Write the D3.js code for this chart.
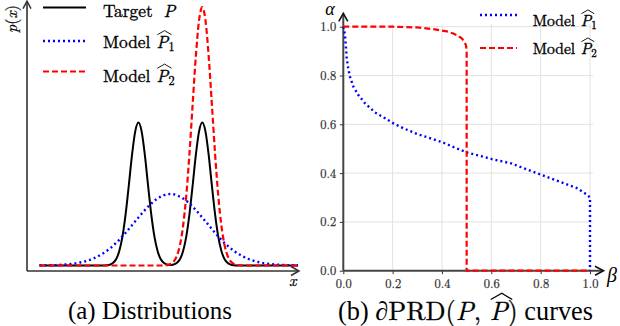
<!DOCTYPE html>
<html><head><meta charset="utf-8">
<script src="https://cdn.jsdelivr.net/npm/d3@7"></script>
<style>body{margin:0;background:#fff} svg{display:block} text{white-space:pre}</style>
</head><body>
<svg id="c" width="620" height="326"></svg>
<script>
// ---------------- data ----------------
// (a) densities sampled on an x grid
const xGrid = [-4.1,-4.0,-3.9,-3.8,-3.7,-3.6,-3.5,-3.4,-3.3,-3.2,
  -3.1,-3.0,-2.9,-2.8,-2.7,-2.6,-2.5,-2.4,-2.3,-2.2,
  -2.1,-2.0,-1.9,-1.8,-1.7,-1.6,-1.5,-1.4,-1.3,-1.2,
  -1.1,-1.0,-0.9,-0.8,-0.7,-0.6,-0.5,-0.4,-0.3,-0.2,
  -0.1,0.0,0.1,0.2,0.3,0.4,0.5,0.6,0.7,0.8,
  0.9,1.0,1.1,1.2,1.3,1.4,1.5,1.6,1.7,1.8,
  1.9,2.0,2.1,2.2,2.3,2.4,2.5,2.6,2.7,2.8,
  2.9,3.0,3.1,3.2,3.3,3.4,3.5,3.6,3.7,3.8,
  3.9,4.0];
const targetP = [0,0,0,0,0,0,0,0,0,0,
  0,0,0,0,0,0,0,0,0,0,
  0,0.001,0.004,0.012,0.031,0.072,0.145,0.257,0.401,0.552,
  0.668,0.712,0.668,0.552,0.401,0.257,0.145,0.072,0.031,0.012,
  0.005,0.002,0.005,0.012,0.031,0.072,0.145,0.257,0.401,0.552,
  0.668,0.712,0.668,0.552,0.401,0.257,0.145,0.072,0.031,0.012,
  0.004,0.001,0,0,0,0,0,0,0,0,
  0,0,0,0,0,0,0,0,0,0,
  0,0];
const modelP1 = [0.001,0.001,0.001,0.001,0.002,0.002,0.003,0.004,0.005,0.006,
  0.008,0.010,0.012,0.016,0.019,0.024,0.029,0.036,0.043,0.052,
  0.061,0.072,0.084,0.098,0.112,0.128,0.145,0.163,0.182,0.201,
  0.220,0.239,0.258,0.276,0.293,0.308,0.322,0.334,0.343,0.350,
  0.355,0.356,0.355,0.350,0.343,0.334,0.322,0.308,0.293,0.276,
  0.258,0.239,0.220,0.201,0.182,0.163,0.145,0.128,0.112,0.098,
  0.084,0.072,0.061,0.052,0.043,0.036,0.029,0.024,0.019,0.016,
  0.012,0.010,0.008,0.006,0.005,0.004,0.003,0.002,0.002,0.001,
  0.001,0.001];
const modelP2 = [0,0,0,0,0,0,0,0,0,0,
  0,0,0,0,0,0,0,0,0,0,
  0,0,0,0,0,0,0,0,0,0,
  0,0,0,0,0,0,0,0,0,0.001,
  0.002,0.007,0.019,0.046,0.101,0.198,0.350,0.560,0.806,1.045,
  1.222,1.287,1.222,1.045,0.806,0.560,0.350,0.198,0.101,0.046,
  0.019,0.007,0.002,0.001,0,0,0,0,0,0,
  0,0,0,0,0,0,0,0,0,0,
  0,0];

// (b) PRD curves
const p1Beta  = [0,0.002,0.007,0.011,0.014,0.020,0.027,0.041,0.061,0.088,0.128,0.169,0.203,0.243,0.30,0.34,0.40,0.45,0.50,0.60,0.68,0.80,0.90,0.95,0.99,1.0,1.0];
const p1Alpha = [1.0,0.99,0.966,0.911,0.87,0.83,0.795,0.754,0.72,0.686,0.649,0.625,0.604,0.584,0.560,0.547,0.527,0.505,0.485,0.458,0.44,0.394,0.356,0.337,0.31,0.30,0.0];
const p2Beta  = [0,0.2,0.3,0.365,0.42,0.446,0.465,0.48,0.49,0.497,0.5,0.5,1.0];
const p2Alpha = [1.0,1.0,0.997,0.99,0.981,0.972,0.963,0.952,0.94,0.925,0.905,0.0,0.0];
const betaTicks  = [0.0,0.2,0.4,0.6,0.8,1.0];
const alphaTicks = [0.0,0.2,0.4,0.6,0.8,1.0];

// ---------------- drawing ----------------
const LM = "'Latin Modern Roman'", TM = "'Liberation Serif'";
const svg = d3.select('#c');
const BLUE = '#0000ff', RED = '#ff0000';

function rich(g, x, y, parts, o) {
  const col = o.fill || '#000';
  const grp = g.append('g').attr('fill', col);
  function layout(fsBase) {
    grp.selectAll('*').remove();
    let cx = 0;
    parts.forEach(p => {
      const fs = p.sub ? fsBase * 0.7 : fsBase;
      const ff = p.ff || o.ff || LM;
      const t = grp.append('text').attr('x', cx).attr('y', p.sub ? fsBase * 0.2 : 0)
        .attr('xml:space', 'preserve')
        .style('font-family', ff)
        .attr('font-size', fs).attr('font-style', p.it ? 'italic' : 'normal')
        .text(p.t);
      if (ff === LM) t.style('stroke', col).style('stroke-width', o.sw != null ? o.sw : 0.35);
      const w = t.node().getComputedTextLength();
      if (p.hat) {
        const hb = -fsBase * 0.76, ht = hb - fsBase * 0.24;
        grp.append('path')
          .attr('d', `M${cx + fsBase*0.04},${hb}L${cx + w/2 + fsBase*0.12},${ht}L${cx + w + fsBase*0.18},${hb}`)
          .attr('fill', 'none').attr('stroke', col).attr('stroke-width', Math.max(0.9, fsBase*0.05));
      }
      cx += w + (p.dx || 0) * fsBase;
    });
    return cx;
  }
  let fs = o.fs;
  let w = layout(fs);
  if (o.width) { fs = fs * o.width / w; w = layout(fs); }
  const x0 = o.anchor === 'middle' ? x - w / 2 : x;
  grp.attr('transform', `translate(${x0},${y})`);
  return grp;
}

function arrowUp(g, x, y, w, h, col, sw) {
  g.append('path').attr('d', `M${x-w},${y+h}L${x},${y}L${x+w},${y+h}`)
    .attr('fill','none').attr('stroke',col).attr('stroke-width',sw).attr('stroke-linejoin','miter');
}
function arrowRight(g, x, y, w, h, col, sw) {
  g.append('path').attr('d', `M${x-h},${y-w}L${x},${y}L${x-h},${y+w}`)
    .attr('fill','none').attr('stroke',col).attr('stroke-width',sw).attr('stroke-linejoin','miter');
}

// ===== (a) Distributions =====
const gA = svg.append('g');
const xL = d3.scaleLinear().domain([-4.1, 4.0]).range([39.5, 298]);
const yL = d3.scaleLinear().domain([0, 1.3]).range([265.5, 4.5]);
const axCol = '#333';
gA.append('line').attr('x1', 27).attr('x2', 27).attr('y1', 271).attr('y2', 1.5).attr('stroke', axCol).attr('stroke-width', 1.6);
gA.append('line').attr('x1', 27).attr('x2', 298.5).attr('y1', 271).attr('y2', 271).attr('stroke', axCol).attr('stroke-width', 1.6);
arrowUp(gA, 27, 1.2, 4, 7.5, axCol, 1.5);
arrowRight(gA, 299, 271, 4.5, 8, axCol, 1.5);

const lineL = (vals) => d3.line().x((d, i) => xL(xGrid[i])).y(d => yL(d)).curve(d3.curveMonotoneX)(vals);
gA.append('path').attr('d', lineL(targetP)).attr('fill', 'none').attr('stroke', '#000').attr('stroke-width', 2);
gA.append('path').attr('d', lineL(modelP1)).attr('fill', 'none').attr('stroke', BLUE).attr('stroke-width', 2.4).attr('stroke-dasharray', '2,3');
gA.append('path').attr('d', lineL(modelP2)).attr('fill', 'none').attr('stroke', RED).attr('stroke-width', 2.2).attr('stroke-dasharray', '6,3');

// axis labels
rich(gA.append('g').attr('transform', 'translate(17,33) rotate(-90)'), 0, 0,
  [{t: 'p', it: true}, {t: '('}, {t: 'x', it: true}, {t: ')'}], {fs: 16, sw: 0.25});
rich(gA, 289, 286, [{t: 'x', it: true}], {fs: 16, sw: 0.25});

// legend (a)
const legA = [
  {y: 7.5, tb: 16.5, col: '#000', dash: null, sw: 2, parts: [{t: 'Target', dx: 0.62}, {t: 'P', it: true}]},
  {y: 41, tb: 48, col: BLUE, dash: '2,3', sw: 2.4, parts: [{t: 'Model', dx: 0.36}, {t: 'P', it: true, hat: true}, {t: '1', sub: true}]},
  {y: 71.5, tb: 81.5, col: RED, dash: '6,3', sw: 2.2, parts: [{t: 'Model', dx: 0.36}, {t: 'P', it: true, hat: true}, {t: '2', sub: true}]}
];
legA.forEach(l => {
  gA.append('line').attr('x1', 43).attr('x2', 86).attr('y1', l.y).attr('y2', l.y)
    .attr('stroke', l.col).attr('stroke-width', l.sw).attr('stroke-dasharray', l.dash);
  rich(gA, 103, l.tb, l.parts, {fs: 17.4});
});
rich(gA, 150, 319, [{t: '(a) Distributions'}], {fs: 22, ff: TM, anchor: 'middle', width: 164});

// ===== (b) PRD curves =====
const gB = svg.append('g');
const xR = d3.scaleLinear().domain([0, 1]).range([343.3, 590]);
const yR = d3.scaleLinear().domain([0, 1]).range([270.7, 26.7]);
gB.selectAll('.vg').data(betaTicks.slice(1)).join('line')
  .attr('x1', d => xR(d)).attr('x2', d => xR(d)).attr('y1', yR(0)).attr('y2', yR(1.011))
  .attr('stroke', '#e2e2e2').attr('stroke-width', 1);
gB.selectAll('.hg').data(alphaTicks.slice(1)).join('line')
  .attr('y1', d => yR(d)).attr('y2', d => yR(d)).attr('x1', xR(0)).attr('x2', xR(1.012))
  .attr('stroke', '#e2e2e2').attr('stroke-width', 1);
const fmt = d3.format('.1f');
const axL = gB.append('g').attr('transform', `translate(${xR(0)},0)`)
  .call(d3.axisLeft(yR).tickValues(alphaTicks).tickFormat(fmt).tickSize(3.5).tickPadding(3.5));
const axB = gB.append('g').attr('transform', `translate(0,${yR(0)})`)
  .call(d3.axisBottom(xR).tickValues(betaTicks).tickFormat(fmt).tickSize(3.5).tickPadding(4.5));
[axL, axB].forEach(a => {
  a.select('.domain').remove();
  a.selectAll('.tick line').attr('stroke', '#333').attr('stroke-width', 1);
  a.selectAll('.tick text').style('font-family', LM).attr('font-size', 12.5).attr('fill', '#333')
    .style('stroke', '#333').style('stroke-width', 0.25);
});
const spCol = '#444';
gB.append('line').attr('x1', xR(0)).attr('x2', xR(0)).attr('y1', yR(0)).attr('y2', 13.5).attr('stroke', spCol).attr('stroke-width', 2);
gB.append('line').attr('x1', xR(0)).attr('x2', 603).attr('y1', yR(0)).attr('y2', yR(0)).attr('stroke', spCol).attr('stroke-width', 2);
arrowUp(gB, xR(0), 13.3, 4.5, 8, '#111', 1.6);
arrowRight(gB, 603.5, yR(0), 4.5, 8.5, '#111', 1.6);

const lineR = (bs, as) => d3.line().x((d, i) => xR(bs[i])).y((d, i) => yR(as[i])).curve(d3.curveLinear)(bs);
gB.append('path').attr('d', lineR(p1Beta, p1Alpha)).attr('fill', 'none').attr('stroke', BLUE).attr('stroke-width', 2.4).attr('stroke-dasharray', '2,3');
gB.append('path').attr('d', lineR(p2Beta, p2Alpha)).attr('fill', 'none').attr('stroke', RED).attr('stroke-width', 2.2).attr('stroke-dasharray', '6,3');

gB.append('text').attr('x', 330).attr('y', 14.5).attr('text-anchor', 'middle').style('font-family', TM)
  .attr('font-size', 18).attr('font-style', 'italic').text('α');
gB.append('text').attr('x', 612).attr('y', 282).attr('text-anchor', 'middle').style('font-family', TM)
  .attr('font-size', 20).attr('font-style', 'italic').text('β');

const legB = [
  {y: 15, tb: 25.5, col: BLUE, dash: '2,3', sw: 2.4, parts: [{t: 'Model', dx: 0.36}, {t: 'P', it: true, hat: true}, {t: '1', sub: true}]},
  {y: 48, tb: 53.5, col: RED, dash: '6,3', sw: 2.2, parts: [{t: 'Model', dx: 0.36}, {t: 'P', it: true, hat: true}, {t: '2', sub: true}]}
];
legB.forEach(l => {
  gB.append('line').attr('x1', 480).attr('x2', 517).attr('y1', l.y).attr('y2', l.y)
    .attr('stroke', l.col).attr('stroke-width', l.sw).attr('stroke-dasharray', l.dash);
  rich(gB, 532.7, l.tb, l.parts, {fs: 15.6});
});
rich(gB, 465.5, 319.5, [
  {t: '(b) ', ff: TM}, {t: '∂', it: true, ff: TM}, {t: 'PRD('}, {t: 'P', it: true}, {t: ', '},
  {t: 'P', it: true, hat: true}, {t: ')'}, {t: ' curves', ff: TM}
], {fs: 22, anchor: 'middle', width: 255, sw: 0.3});
</script>
</body></html>
